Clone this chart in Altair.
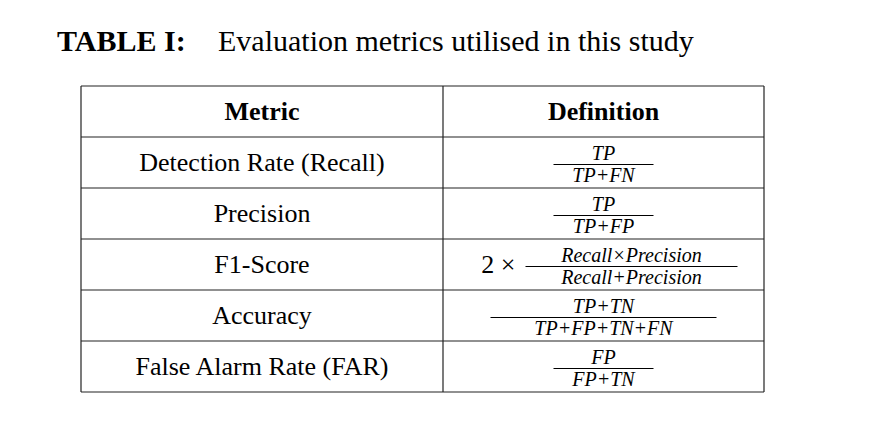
import altair as alt
import pandas as pd

metrics = ["Detection Rate (Recall)", "Precision", "F1-Score", "Accuracy", "False Alarm Rate (FAR)"]
numerators = ["TP", "TP", "Recall×Precision", "TP+TN", "FP"]
denominators = ["TP+FN", "TP+FP", "Recall+Precision", "TP+FP+TN+FN", "FP+TN"]
prefixes = ["", "", "2 ×", "", ""]
bar_widths = [100, 100, 212, 226, 100]
headers = ["Metric", "Definition"]

# table geometry (page pixels)
left, mid, right = 81, 443, 764
top, head_h, row_h = 86, 51, 51
serif = "Liberation Serif"

xs = alt.Scale(domain=[8, 876], range=[0, 868], nice=False, zero=False)
ys = alt.Scale(domain=[8, 426], range=[0, 418], nice=False, zero=False)

n = len(metrics)
bottom = top + head_h + n * row_h
rows = pd.DataFrame({
    "metric": metrics,
    "num": numerators,
    "den": denominators,
    "pre": prefixes,
    "bw": bar_widths,
})
rows["yc"] = [top + head_h + row_h * (i + 0.5) for i in range(n)]
rows["xm"] = (left + mid) / 2
fc = (mid + right) / 2
rows["xf"] = [fc + (28 if p else 0) for p in prefixes]
rows["x1"] = rows["xf"] - rows["bw"] / 2
rows["x2"] = rows["xf"] + rows["bw"] / 2
rows["xp"] = rows["x1"] - 10
rows["ybar"] = rows["yc"] + 2
rows["ynum"] = rows["yc"] - 9
rows["yden"] = rows["yc"] + 13

hlines = pd.DataFrame({"y": [top, top + head_h] + [top + head_h + row_h * (i + 1) for i in range(n)],
                       "x1": left, "x2": right})
vlines = pd.DataFrame({"x": [left, mid, right], "y1": top, "y2": bottom})
head = pd.DataFrame({"t": headers, "x": [(left + mid) / 2, fc], "y": top + head_h / 2})

base = alt.Chart(rows)
X = lambda f: alt.X(f, scale=xs, axis=None)
Y = lambda f: alt.Y(f, scale=ys, axis=None)

h = alt.Chart(hlines).mark_rule(color="#222", strokeWidth=1.2).encode(x=X("x1:Q"), x2="x2:Q", y=Y("y:Q"))
v = alt.Chart(vlines).mark_rule(color="#222", strokeWidth=1.2).encode(x=X("x:Q"), y=Y("y1:Q"), y2="y2:Q")
hd = alt.Chart(head).mark_text(font=serif, fontSize=26, fontWeight="bold", baseline="middle").encode(
    x=X("x:Q"), y=Y("y:Q"), text="t:N")
mt = base.mark_text(font=serif, fontSize=26, baseline="middle").encode(x=X("xm:Q"), y=Y("yc:Q"), text="metric:N")
bars = base.mark_rule(color="#000", strokeWidth=1).encode(x=X("x1:Q"), x2="x2:Q", y=Y("ybar:Q"))
nums = base.mark_text(font=serif, fontSize=20, fontStyle="italic", baseline="middle").encode(
    x=X("xf:Q"), y=Y("ynum:Q"), text="num:N")
dens = base.mark_text(font=serif, fontSize=20, fontStyle="italic", baseline="middle").encode(
    x=X("xf:Q"), y=Y("yden:Q"), text="den:N")
pre = base.mark_text(font=serif, fontSize=26, align="right", baseline="middle").encode(
    x=X("xp:Q"), y=Y("yc:Q"), text="pre:N")

title_bold = pd.DataFrame({"t": ["TABLE I:"], "x": [57], "y": [42]})
title_rest = pd.DataFrame({"t": ["Evaluation metrics utilised in this study"], "x": [218], "y": [42]})
t1 = alt.Chart(title_bold).mark_text(font=serif, fontSize=30, fontWeight="bold", align="left",
                                     baseline="middle").encode(x=X("x:Q"), y=Y("y:Q"), text="t:N")
t2 = alt.Chart(title_rest).mark_text(font=serif, fontSize=30, align="left",
                                     baseline="middle").encode(x=X("x:Q"), y=Y("y:Q"), text="t:N")

chart = alt.layer(h, v, hd, mt, bars, nums, dens, pre, t1, t2).properties(
    width=868, height=418, autosize=alt.AutoSizeParams(type="none"), padding=0,
    background="white"
).configure_view(stroke=None)

chart.save("out.html", embed_options={"renderer": "svg", "actions": False})
